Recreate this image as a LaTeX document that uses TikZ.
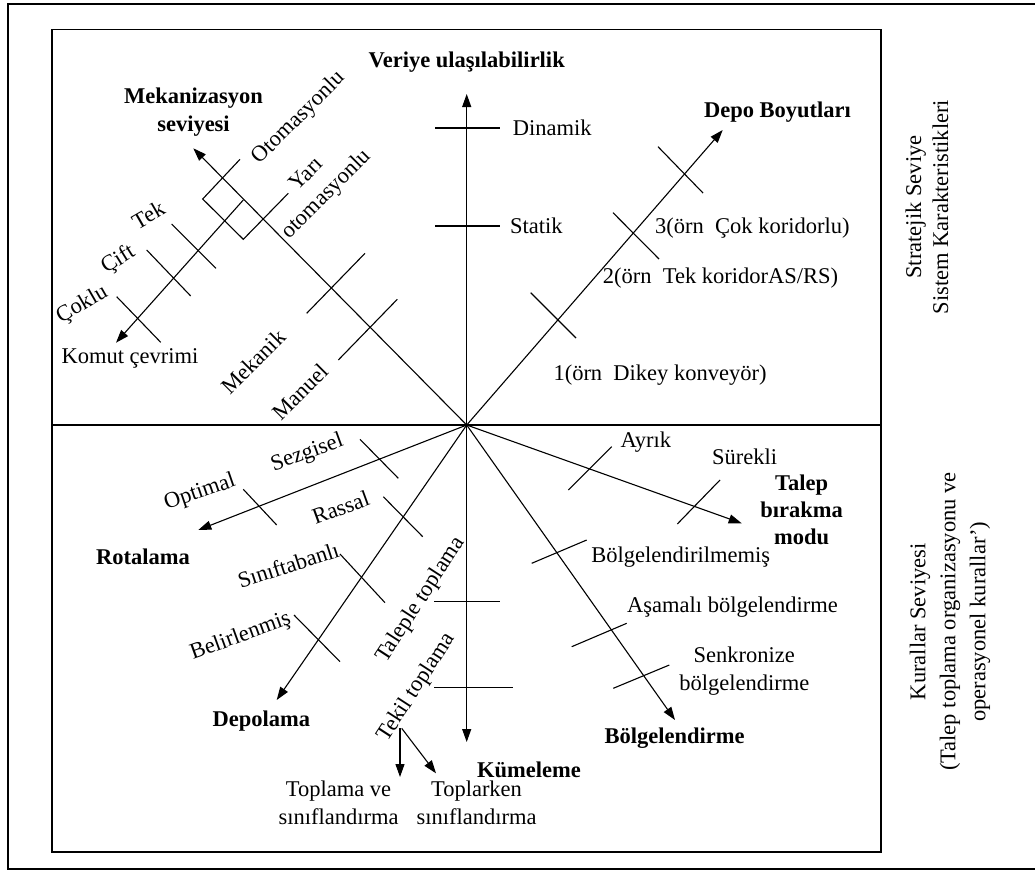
\documentclass[tikz,border=0pt]{standalone}
\usepackage{fontspec}
\setmainfont{Liberation Serif}
\usetikzlibrary{arrows.meta}
\tikzset{
  lbl/.style={inner sep=0pt, font=\fontsize{22.5}{28}\selectfont, align=center},
  bl/.style={inner sep=0pt, font=\fontsize{22.5}{28}\selectfont\bfseries, align=center},
  axis/.style={line width=1.1pt, -{Triangle[length=13pt,width=9pt]}},
  tickline/.style={line width=1.1pt},
  frame/.style={line width=1.6pt},
}
\begin{document}
\begin{tikzpicture}[x=1pt,y=-1pt]
\useasboundingbox (0,0) rectangle (1035,870);
% frames
\draw[frame] (1035,4) -- (8,4) -- (8,869) -- (1035,869);
\draw[frame] (52,29.5) rectangle (881,852);
\draw[line width=1.4pt] (52,425) -- (881,425);

\coordinate (O) at (466.7,425);
\coordinate (up) at (466.7,94);
\coordinate (down) at (466.7,742);
\coordinate (depoT) at (722.7,130);
\coordinate (mekT) at (193.3,148.3);
\coordinate (komS) at (243.3,200);
\coordinate (komT) at (116,342.7);
\coordinate (rotT) at (198.3,530);
\coordinate (depT) at (276.7,700);
\coordinate (talT) at (741.7,523.3);
\coordinate (bolT) at (675,720);
\coordinate (tkS1) at (400,728);
\coordinate (tkT1) at (400,777);
\coordinate (tkS2) at (401.7,728.3);
\coordinate (tkT2) at (436,773.3);

% axes
\draw[axis] (O) -- (up);
\draw[axis] (O) -- (down);
\draw[axis] (O) -- (depoT);
\draw[axis] (O) -- (mekT);
\draw[axis] (komS) -- (komT);
\draw[axis] (O) -- (rotT);
\draw[axis] (O) -- (depT);
\draw[axis] (O) -- (talT);
\draw[axis] (O) -- (bolT);
\draw[axis] (tkS1) -- (tkT1);
\draw[axis] (tkS2) -- (tkT2);

% ticks
\draw[tickline] (435,128) -- (500,128);
\draw[tickline] (435,226) -- (500,226);
\draw[tickline] (434,601.7) -- (500,601.7);
\draw[tickline] (434,687.7) -- (512.7,687.7);
\draw[tickline] (658,146.7) -- (703,193);
\draw[tickline] (613,212.7) -- (659,259);
\draw[tickline] (530.7,292.7) -- (576,338);
\draw[tickline] (306.7,313.3) -- (365,253.3);
\draw[tickline] (338.3,360) -- (397.3,299.3);
\draw[tickline] (240,159.3) -- (202.7,199) -- (243.3,239.3) -- (288.3,193.3);
\draw[tickline] (171.7,224) -- (216,268.3);
\draw[tickline] (146.7,250) -- (190.7,296);
\draw[tickline] (116.7,296.7) -- (160.7,342.3);
\draw[tickline] (360,439.3) -- (398.3,478.3);
\draw[tickline] (243.3,489.3) -- (276.7,525);
\draw[tickline] (383.3,496.7) -- (422.7,536.7);
\draw[tickline] (340,554) -- (385,602.7);
\draw[tickline] (294,615) -- (340,661.7);
\draw[tickline] (568.3,490) -- (611.7,446.7);
\draw[tickline] (677.3,524) -- (720,480);
\draw[tickline] (531.7,563.3) -- (586.7,540);
\draw[tickline] (571.7,646.7) -- (626.7,623.3);
\draw[tickline] (613.3,688.3) -- (669.3,665);

% labels upper half
\node[bl] (ver) at (466.7,61.7) {Veriye ulaşılabilirlik};
\node[bl] (mek) at (193.5,112.5) {Mekanizasyon\\seviyesi};
\node[bl] (depo) at (777.5,111.7) {Depo Boyutları};
\node[lbl,anchor=west] (din) at (512.7,128) {Dinamik};
\node[lbl,anchor=west] (sta) at (510,226) {Statik};
\node[lbl,anchor=west] (d3) at (655,228.3) {3(örn~~Çok koridorlu)};
\node[lbl,anchor=west] (d2) at (602.7,278.3) {2(örn~~Tek koridorAS/RS)};
\node[lbl,anchor=west] (d1) at (553.3,375) {1(örn~~Dikey konveyör)};
\node[lbl,rotate=45] (oto) at (299,118) {Otomasyonlu};
\node[lbl,rotate=45] (yari) at (317,185) {Yarı\\otomasyonlu};
\node[lbl,rotate=30] (tek) at (148.3,215) {Tek};
\node[lbl,rotate=32] (cift) at (118.3,260) {Çift};
\node[lbl,rotate=30] (coklu) at (82.3,305) {Çoklu};
\node[lbl] (komut) at (130,358.3) {Komut çevrimi};
\node[lbl,rotate=45] (mekanik) at (253.3,361.7) {Mekanik};
\node[lbl,rotate=45] (manuel) at (300,391.7) {Manuel};

% labels lower half
\node[lbl,rotate=20] (sez) at (307.3,453.3) {Sezgisel};
\node[lbl,rotate=19] (opt) at (200,492.7) {Optimal};
\node[bl] (rot) at (143,556.7) {Rotalama};
\node[lbl,rotate=20] (ras) at (340.7,507.3) {Rassal};
\node[lbl,rotate=18] (sin) at (288.3,565) {Sınıftabanlı};
\node[lbl,rotate=20] (bel) at (240.7,636.7) {Belirlenmiş};
\node[bl] (dep) at (261.3,720.7) {Depolama};
\node[lbl,rotate=57] (tal) at (420.8,600) {Taleple toplama};
\node[lbl,rotate=57] (tekil) at (416.7,687.5) {Tekil toplama};
\node[bl] (kum) at (529,770) {Kümeleme};
\node[lbl] (ts) at (338.5,802.5) {Toplama ve\\sınıflandırma};
\node[lbl] (tks) at (476.5,803) {Toplarken\\sınıflandırma};
\node[lbl] (ayr) at (645.8,441.7) {Ayrık};
\node[lbl] (sur) at (744.5,456.7) {Sürekli};
\node[bl,font=\fontsize{22.5}{26.7}\selectfont\bfseries] (tbm) at (801.7,510) {Talep\\bırakma\\modu};
\node[lbl] (bgm) at (680.8,556.7) {Bölgelendirilmemiş};
\node[lbl] (asa) at (732.5,606.7) {Aşamalı bölgelendirme};
\node[lbl] (sen) at (744.3,671.5) {Senkronize\\bölgelendirme};
\node[bl] (bol) at (674.5,738.3) {Bölgelendirme};

% side labels
\node[lbl,rotate=90,font=\fontsize{22.5}{27}\selectfont] (strat) at (927,207) {Stratejik Seviye\\Sistem Karakteristikleri};
\node[lbl,rotate=90,font=\fontsize{22.5}{30}\selectfont] (kur) at (950,621.7) {Kurallar Seviyesi\\(Talep toplama organizasyonu ve\\operasyonel kurallar')};
\end{tikzpicture}
\end{document}
